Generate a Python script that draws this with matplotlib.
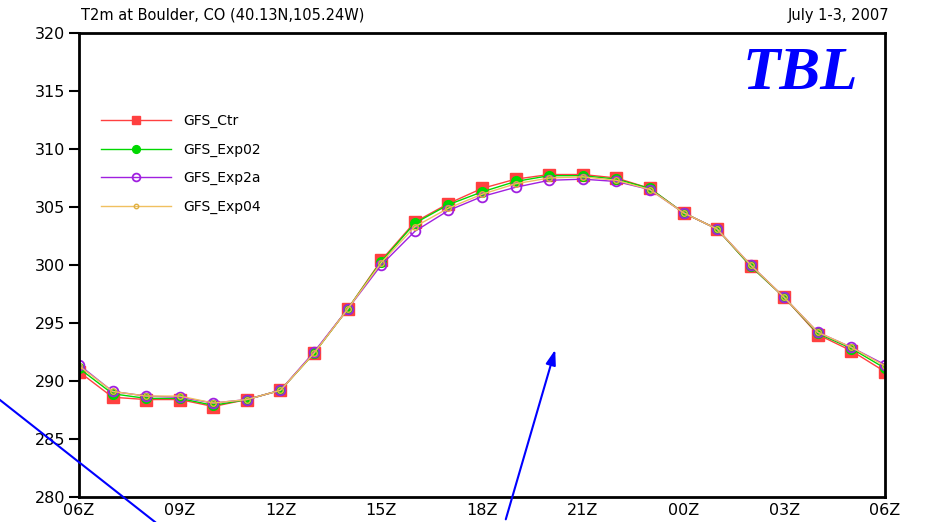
"""
T2m at Boulder, CO -- GFS experiments, July 1-3, 2007.
Line chart with markers, GrADS-like look, 928 x 522 px.
"""

import matplotlib
matplotlib.use('Agg')
import matplotlib.pyplot as plt
from matplotlib.lines import Line2D

# ── Data (2 m temperature, K, hourly from 06Z) ────────────────────────────────
hours = list(range(25))
tick_hours = [0, 3, 6, 9, 12, 15, 18, 21, 24]
tick_labels = ['06Z', '09Z', '12Z', '15Z', '18Z', '21Z', '00Z', '03Z', '06Z']

gfs_ctr = [290.8, 288.6, 288.4, 288.4, 287.8, 288.4, 289.2, 292.4, 296.2,
           300.4, 303.7, 305.3, 306.6, 307.4, 307.8, 307.8, 307.5, 306.6,
           304.5, 303.1, 299.9, 297.2, 294.0, 292.6, 290.8]
gfs_exp02 = [291.1, 288.9, 288.5, 288.5, 287.9, 288.4, 289.2, 292.4, 296.2,
             300.3, 303.6, 305.2, 306.3, 307.2, 307.7, 307.7, 307.4, 306.6,
             304.5, 303.1, 299.9, 297.2, 294.1, 292.8, 291.1]
gfs_exp2a = [291.4, 289.1, 288.7, 288.6, 288.1, 288.4, 289.2, 292.5, 296.2,
             300.0, 302.9, 304.7, 305.9, 306.7, 307.3, 307.4, 307.2, 306.5,
             304.5, 303.1, 300.0, 297.2, 294.2, 292.9, 291.4]
gfs_exp04 = [291.3, 289.1, 288.7, 288.7, 288.1, 288.4, 289.2, 292.4, 296.2,
             300.2, 303.3, 304.9, 306.1, 307.0, 307.5, 307.6, 307.3, 306.5,
             304.5, 303.1, 300.0, 297.2, 294.2, 292.9, 291.3]

# ── Style ─────────────────────────────────────────────────────────────────────
plt.rcParams['font.family'] = ['DejaVu Sans']
series = [
    ('GFS_Ctr',   gfs_ctr,   dict(color='#ff4040', marker='s', ms=8,
                                  mfc='#ff4040', mec='#ff4040')),
    ('GFS_Exp02', gfs_exp02, dict(color='#00d800', marker='o', ms=7,
                                  mfc='#00d800', mec='#00d800')),
    ('GFS_Exp2a', gfs_exp2a, dict(color='#a020e0', marker='o', ms=7,
                                  mfc='none', mec='#a020e0', mew=1.3)),
    ('GFS_Exp04', gfs_exp04, dict(color='#f0c060', marker='o', ms=4,
                                  mfc='none', mec='#e0b040', mew=1.0)),
]

fig = plt.figure(figsize=(9.28, 5.22), dpi=100)
ax = fig.add_axes([0.0851, 0.0479, 0.8686, 0.8889])

for name, vals, kw in series:
    ax.plot(hours, vals, lw=1.0, label=name, **kw)

ax.set_xlim(0, 24)
ax.set_ylim(280, 320)
ax.set_yticks(range(280, 321, 5))
ax.set_xticks(tick_hours)
ax.set_xticklabels(tick_labels)
ax.tick_params(axis='y', direction='out', length=7, width=1.5,
               labelsize=11.5, pad=3)
ax.tick_params(axis='x', length=0, labelsize=11.5, pad=4)
for sp in ax.spines.values():
    sp.set_linewidth(2)
    sp.set_color('black')

# ── Legend ────────────────────────────────────────────────────────────────────
ax.legend(loc='upper left', bbox_to_anchor=(0.012, 0.853), frameon=False,
          fontsize=10, handlelength=5.0, handletextpad=0.9,
          labelspacing=1.05, numpoints=1, markerscale=0.8)

# ── Titles ────────────────────────────────────────────────────────────────────
fig.text(0.087, 0.971, 'T2m at Boulder, CO (40.13N,105.24W)',
         ha='left', va='center', fontsize=10.5)
fig.text(0.958, 0.971, 'July 1-3, 2007',
         ha='right', va='center', fontsize=10.5)
fig.text(0.862, 0.858, 'TBL', ha='center', va='center',
         fontsize=44, fontweight='bold', fontstyle='italic',
         family='Liberation Serif', color='#0000ff')

# ── Blue pointer lines (figure pixels, origin top-left) ──────────────────────
W, H = 928, 522
fig.add_artist(Line2D([0 / W, 155 / W], [1 - 400 / H, 1 - 522 / H],
                      color='#0000ff', lw=1.5, transform=fig.transFigure))
ax.annotate('', xy=(556 / W, 1 - 347 / H), xycoords='figure fraction',
            xytext=(505 / W, 1 - 522 / H), textcoords='figure fraction',
            arrowprops=dict(arrowstyle='-|>,head_length=0.9,head_width=0.3',
                            color='#0000ff', lw=1.5),
            annotation_clip=False)

plt.savefig('out.png', dpi=100, facecolor='white')
plt.close()
